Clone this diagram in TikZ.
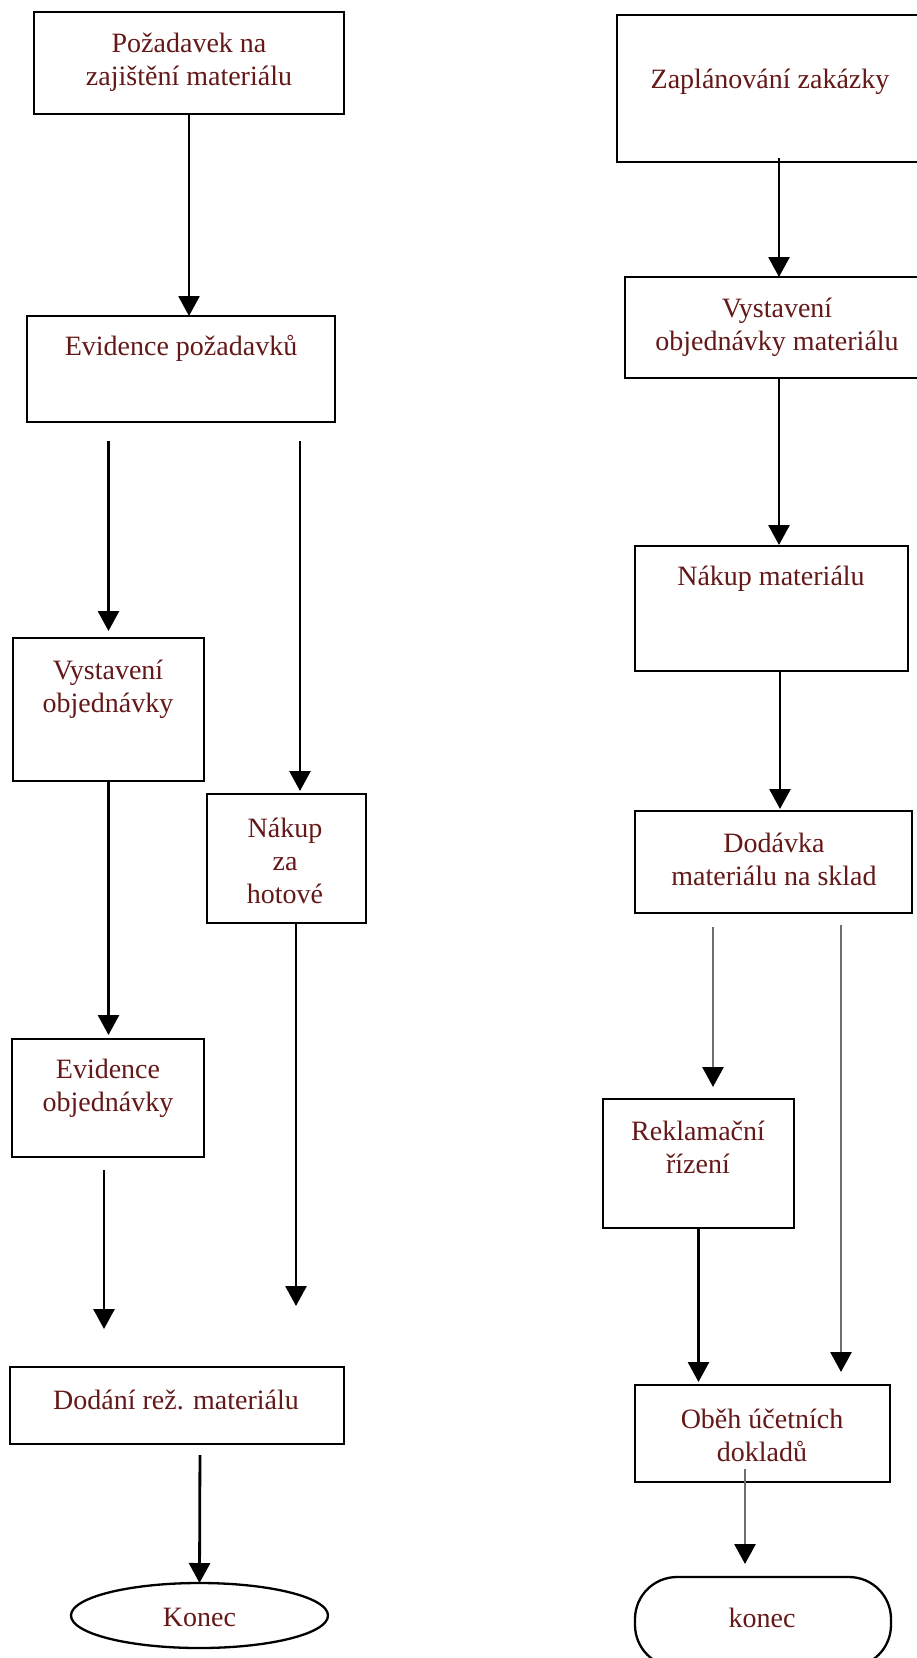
\documentclass[tikz,border=0pt]{standalone}
\usepackage{fontspec}
\setmainfont{Liberation Serif}
\usetikzlibrary{arrows.meta,shapes.geometric}
\definecolor{ink}{RGB}{100,24,24}
\definecolor{lightline}{RGB}{110,110,110}
\begin{document}
\begin{tikzpicture}[x=1pt,y=-1pt,
  box/.style={draw=black,line width=2.3pt,fill=white,inner sep=0pt,outer sep=0pt},
  txt/.style={text=ink,align=center,inner sep=0pt,font=\fontsize{28}{33}\selectfont},
  arr/.style={draw=black,line width=2.8pt,-{Triangle[width=21pt,length=20pt,color=black]}},
  garr/.style={arr,draw=lightline}]
\useasboundingbox (0,0) rectangle (917,1658);
\fill[white] (0,0) rectangle (917,1658);
\clip (0,0) rectangle (917,1658);

% ---------- left column ----------
\node[box,minimum width=310pt,minimum height=102pt] (b1) at (189,63) {};
\node[txt] (t1) at (189,62) {Požadavek na\\zajištění materiálu};

\node[box,minimum width=308pt,minimum height=106pt] (b2) at (181,369) {};
\node[txt] (t2) at (181,348) {Evidence požadavků};

\node[box,minimum width=191pt,minimum height=143pt] (b3) at (108.5,709.5) {};
\node[txt] (t3) at (108,689) {Vystavení\\objednávky};

\node[box,minimum width=159pt,minimum height=129pt] (b4) at (286.5,858.5) {};
\node[txt] (t4) at (285,861) {Nákup\\za\\hotové};

\node[box,minimum width=192pt,minimum height=118pt] (b5) at (108,1098) {};
\node[txt] (t5) at (108,1088) {Evidence\\objednávky};

\node[box,minimum width=334pt,minimum height=77pt] (b6) at (177,1405.5) {};
\node[txt] (t6) at (176,1400) {Dodání rež. materiálu};

\node[box,ellipse,minimum width=257pt,minimum height=65pt] (e1) at (199.5,1615.5) {};
\node[txt] (te) at (199.5,1617) {Konec};

\coordinate (xl4) at (300,0);
\coordinate (xl5) at (104,0);
\coordinate (xl6) at (296,0);
\coordinate (xl7) at (200,0);

\draw[arr] (b1.south) -- (b2.north -| b1.south);
\draw[arr,shorten <=19pt,shorten >=7pt] (b2.south -| b3.north) -- (b3.north);
\draw[arr,shorten <=19pt,shorten >=3pt] (b2.south -| xl4) -- (b4.north -| xl4);
\draw[arr,shorten >=4pt] (b3.south) -- (b5.north -| b3.south);
\draw[arr,shorten <=13pt,shorten >=38pt] (b5.south -| xl5) -- (b6.north -| xl5);
\draw[arr,shorten >=61pt] (b4.south -| xl6) -- (b6.north -| xl6);
\draw[arr,shorten <=11pt] (b6.south -| xl7) -- (e1.north);

% ---------- right column ----------
\node[box,minimum width=313pt,minimum height=147pt] (r1) at (773.5,88.5) {};
\node[txt] (s1) at (770,82) {Zaplánování zakázky};

\node[box,minimum width=305pt,minimum height=101pt] (r2) at (777.5,327.5) {};
\node[txt] (s2) at (777,327) {Vystavení\\objednávky materiálu};

\node[box,minimum width=273pt,minimum height=125pt] (r3) at (771.5,608.5) {};
\node[txt] (s3) at (771,579) {Nákup materiálu};

\node[box,minimum width=277pt,minimum height=102pt] (r4) at (773.5,862) {};
\node[txt] (s4) at (774,859) {Dodávka\\materiálu na sklad};

\node[box,minimum width=191pt,minimum height=129pt] (r5) at (698.5,1163.5) {};
\node[txt] (s5) at (698,1147) {Reklamační\\řízení};

\node[box,minimum width=255pt,minimum height=97pt] (r6) at (762.5,1433.5) {};
\node[txt] (s6) at (762,1435) {Oběh účetních\\dokladů};

\node[box,rounded corners=42pt,minimum width=256pt,minimum height=90pt] (r7) at (763,1622) {};
\node[txt] (s7) at (762,1618) {konec};

\coordinate (xr1) at (779,0);
\coordinate (xr3) at (780,0);
\coordinate (xr4) at (713,0);
\coordinate (xr5) at (841,0);
\coordinate (xr7) at (745,0);

\draw[arr,shorten <=-4pt] (r1.south -| xr1) -- (r2.north -| xr1);
\draw[arr,shorten >=1pt] (r2.south -| xr1) -- (r3.north -| xr1);
\draw[arr,shorten >=2pt] (r3.south -| xr3) -- (r4.north -| xr3);
\draw[garr,shorten <=14pt,shorten >=12pt] (r4.south -| xr4) -- (r5.north -| xr4);
\draw[garr,shorten <=12pt,shorten >=13pt] (r4.south -| xr5) -- (r6.north -| xr5);
\draw[arr,shorten >=3pt] (r5.south) -- (r6.north -| r5.south);
\draw[garr,shorten <=-13pt,shorten >=13pt] (r6.south -| xr7) -- (r7.north -| xr7);
\end{tikzpicture}
\end{document}
